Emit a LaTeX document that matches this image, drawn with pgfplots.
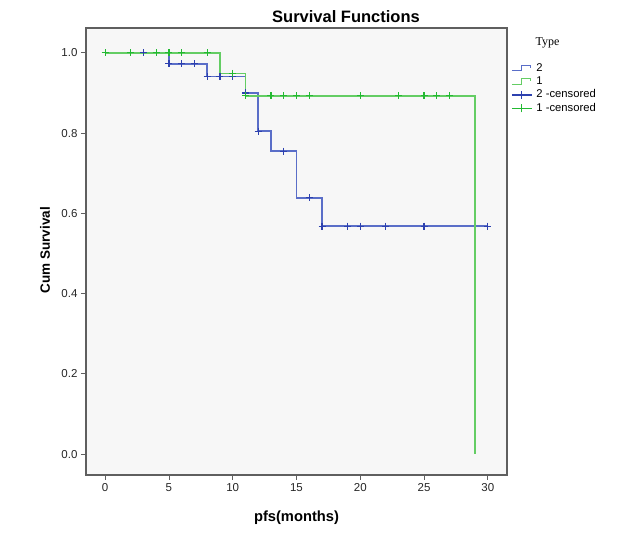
\documentclass[border=0pt]{standalone}
\usepackage{pgfplots}
\pgfplotsset{compat=1.18}
\usepackage{fontspec}
\setmainfont{Liberation Sans}
\newfontfamily\seriffont{Liberation Serif}
\definecolor{kmblue}{RGB}{90,110,200}
\definecolor{kmbluedark}{RGB}{45,65,175}
\definecolor{kmgreen}{RGB}{100,205,100}
\definecolor{kmgreendark}{RGB}{35,185,50}
\definecolor{framec}{RGB}{95,95,95}
\definecolor{bgc}{RGB}{247,247,247}
\pgfplotsset{
  steplegend/.style={legend image code/.code={\draw[##1, line width=1.1pt] (0pt,-2.5pt) -- (10pt,-2.5pt) -- (10pt,3pt) -- (19pt,3pt) -- (19pt,0.5pt);}},
  crosslegend/.style={legend image code/.code={\draw[##1, line width=1.1pt] (0pt,0pt) -- (20pt,0pt) (10pt,-4pt) -- (10pt,4pt);}},
}
\begin{document}
\begin{tikzpicture}
\useasboundingbox (0,0) rectangle (627pt,537pt);
\begin{axis}[
  at={(86pt,62pt)}, anchor=south west,
  width=421pt, height=447pt, scale only axis,
  xmin=-1.5, xmax=31.5, ymin=-0.052, ymax=1.062,
  xtick={0,5,10,15,20,25,30},
  ytick={0,0.2,0.4,0.6,0.8,1},
  tick align=outside, xtick pos=bottom, ytick pos=left,
  major tick length=5pt,
  tick style={framec, line width=0.8pt},
  axis line style={framec, line width=1.1pt},
  axis background/.style={fill=bgc},
  /pgf/number format/assume math mode=true,
  yticklabel style={/pgf/number format/.cd, fixed, fixed zerofill, precision=1},
  ticklabel style={font=\fontsize{11.5}{13}\selectfont, text=black!85},
  clip=false,
  legend style={at={(axis description cs:1.005,0.925)}, anchor=north west,
    draw=none, fill=none, font=\fontsize{11.25}{13}\selectfont,
    row sep=0pt, column sep=2pt, inner xsep=2pt, inner ysep=0pt,
    nodes={text height=8pt, text depth=2.5pt, inner ysep=1.4pt, inner xsep=2pt}},
  legend cell align=left,
]
\addplot[const plot, kmblue, line width=1.6pt, steplegend]
  coordinates {(0,1) (5,0.973) (8,0.941) (11,0.900) (12,0.805) (13,0.755) (15,0.639) (17,0.568) (30,0.568)};
\addlegendentry{2}
\addplot[const plot, kmgreen, line width=1.6pt, steplegend]
  coordinates {(0,1) (9,0.949) (11,0.893) (29,0)};
\addlegendentry{1}
\addplot[only marks, mark=+, mark size=3.5pt, kmbluedark, mark options={line width=1.2pt}, crosslegend]
  coordinates {(3,1) (5,0.973) (6,0.973) (7,0.973) (8,0.941) (9,0.941) (10,0.941) (11,0.900) (12,0.805) (14,0.755) (16,0.639) (17,0.568) (19,0.568) (20,0.568) (22,0.568) (25,0.568) (30,0.568)};
\addlegendentry{2 -censored}
\addplot[only marks, mark=+, mark size=3.5pt, kmgreendark, mark options={line width=1.2pt}, crosslegend]
  coordinates {(0,1) (2,1) (4,1) (5,1) (6,1) (8,1) (10,0.949) (11,0.893) (13,0.893) (14,0.893) (15,0.893) (16,0.893) (20,0.893) (23,0.893) (25,0.893) (26,0.893) (27,0.893)};
\addlegendentry{1 -censored}
\node[font=\bfseries\fontsize{16.5}{18}\selectfont] at (axis description cs:0.6176,1.0246) {Survival Functions};
\node[font=\bfseries\fontsize{14.7}{16}\selectfont] at (axis description cs:0.500,-0.096) {pfs(months)};
\node[font=\bfseries\fontsize{13.5}{15}\selectfont, rotate=90] at (axis description cs:-0.097,0.503) {Cum Survival};
\node[font=\seriffont\fontsize{12}{14}\selectfont] at (axis description cs:1.096,0.967) {Type};
\end{axis}
\end{tikzpicture}
\end{document}
